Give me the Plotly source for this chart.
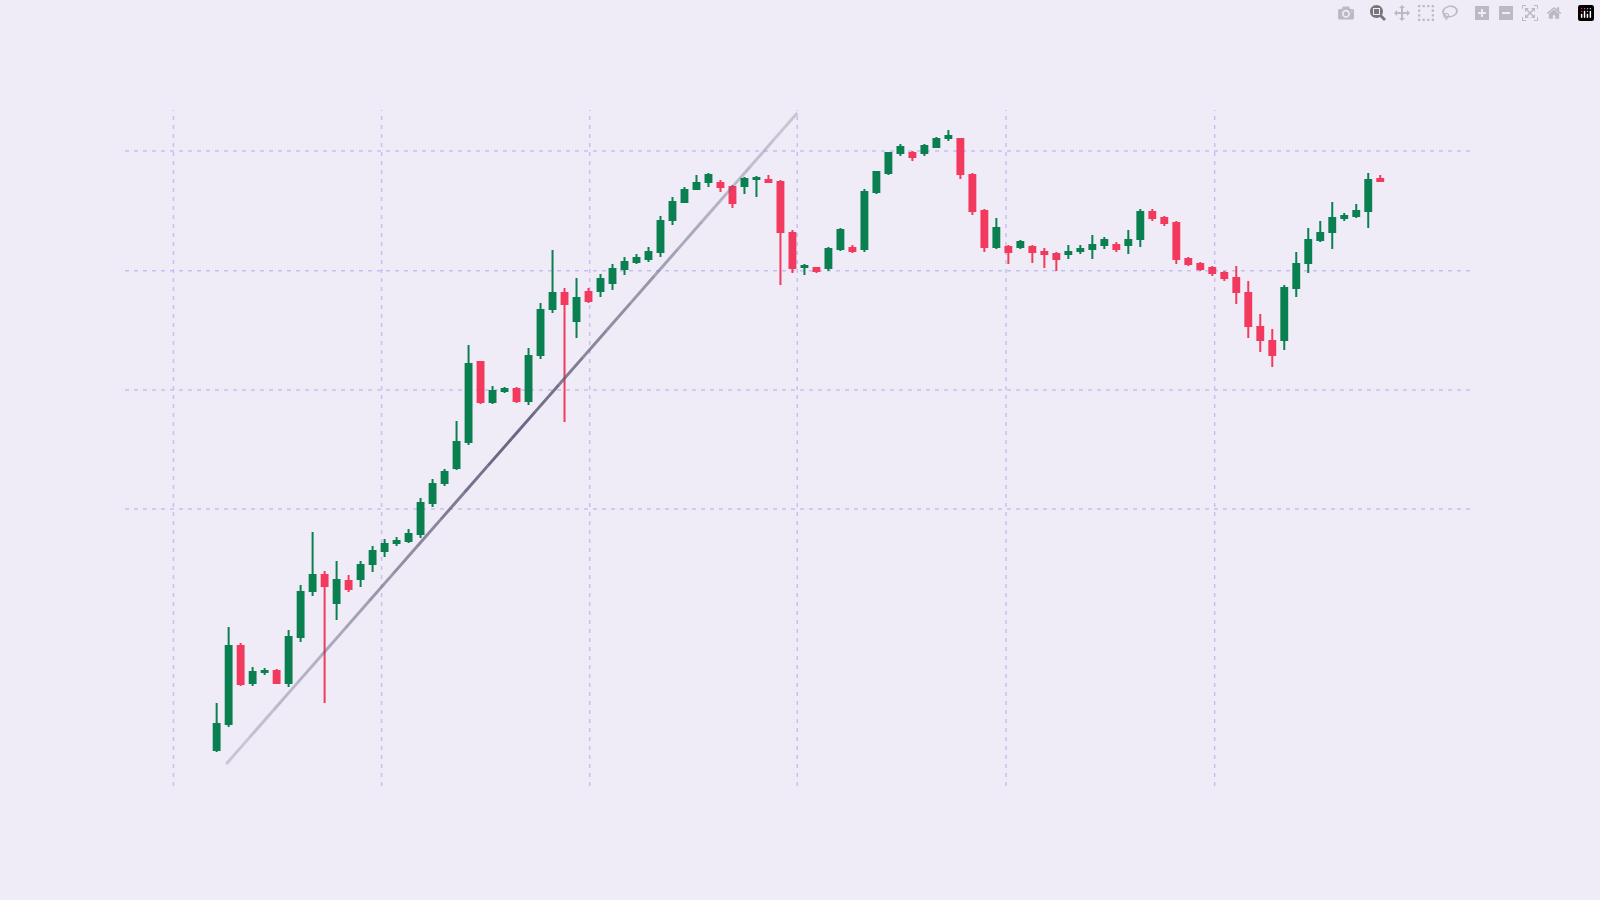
import plotly.graph_objects as go

# OHLC values (price units, arbitrary scale)
opens = [150, 176, 254, 217, 228, 229, 217, 263, 309, 325, 297, 319, 321, 336, 349, 357,
         359, 366, 397, 417, 432, 458, 538, 498, 509, 511, 499, 545, 591, 607, 579, 608,
         609, 617, 631, 638, 641, 648, 680, 698, 711, 718, 717, 713, 714, 721, 720, 718,
         667, 633, 632, 632, 651, 652, 651, 708, 727, 747, 747, 747, 753, 762, 761, 725,
         689, 653, 653, 653, 653, 648, 646, 646, 649, 651, 655, 655, 655, 661, 688, 682,
         677, 641, 636, 632, 627, 622, 607, 573, 559, 560, 612, 637, 660, 668, 682, 684,
         689, 721]
highs = [197, 273, 257, 233, 232, 231, 270, 315, 368, 329, 339, 325, 339, 354, 361, 363,
         371, 402, 421, 431, 479, 555, 538, 514, 513, 513, 552, 597, 650, 612, 622, 612,
         626, 636, 643, 646, 653, 684, 703, 713, 725, 727, 720, 715, 723, 724, 725, 720,
         670, 636, 633, 653, 672, 655, 711, 729, 748, 756, 749, 756, 763, 770, 762, 727,
         691, 682, 655, 660, 655, 652, 648, 655, 655, 665, 663, 658, 670, 691, 691, 684,
         679, 643, 638, 634, 629, 634, 619, 586, 571, 615, 648, 672, 679, 698, 687, 696,
         727, 725]
lows = [148, 173, 214, 214, 225, 216, 213, 258, 304, 197, 280, 308, 313, 328, 343, 354,
        357, 362, 393, 414, 430, 455, 496, 496, 507, 497, 495, 541, 587, 478, 562, 597,
        603, 610, 625, 636, 638, 643, 675, 697, 711, 713, 708, 692, 706, 703, 718, 615,
        627, 625, 627, 629, 649, 647, 648, 706, 725, 744, 739, 744, 752, 759, 721, 685,
        648, 651, 636, 651, 637, 632, 629, 641, 646, 641, 651, 648, 646, 653, 679, 674,
        636, 634, 629, 624, 619, 596, 562, 548, 533, 550, 603, 627, 658, 651, 679, 682,
        672, 718]
closes = [176, 254, 216, 228, 229, 217, 263, 308, 325, 314, 320, 311, 335, 349, 356, 359,
          366, 397, 416, 428, 458, 536, 498, 509, 511, 499, 544, 590, 607, 596, 602, 599,
          621, 631, 638, 642, 648, 679, 698, 710, 717, 725, 713, 697, 721, 722, 718, 668,
          632, 634, 629, 651, 670, 649, 708, 728, 747, 753, 743, 754, 761, 764, 726, 689,
          653, 672, 648, 658, 648, 646, 641, 648, 651, 655, 660, 651, 660, 688, 682, 677,
          641, 636, 631, 627, 622, 608, 574, 560, 545, 612, 636, 660, 667, 682, 684, 689,
          720, 719]
bars = list(range(len(opens)))

# trend line endpoints (bar index, price)
trend_x = [0.8, 48.4]
trend_y = [136, 787]

grid_x = [-3.6, 13.75, 31.1, 48.4, 65.8, 83.2]
grid_y = [391, 510, 629.3, 749]

fig = go.Figure()

# trend line drawn as segments so it fades out toward both ends
n_seg = 24
for i in range(n_seg):
    t0, t1 = i / n_seg, (i + 1) / n_seg
    mid = (t0 + t1) / 2
    alpha = 0.25 + 0.7 * (1 - abs(mid - 0.5) * 2) ** 1.2
    fig.add_trace(go.Scatter(
        x=[trend_x[0] + (trend_x[1] - trend_x[0]) * t0, trend_x[0] + (trend_x[1] - trend_x[0]) * t1],
        y=[trend_y[0] + (trend_y[1] - trend_y[0]) * t0, trend_y[0] + (trend_y[1] - trend_y[0]) * t1],
        mode='lines', line=dict(color=f'rgba(95,92,120,{alpha:.2f})', width=3),
        showlegend=False, hoverinfo='skip'
    ))

fig.add_trace(go.Candlestick(
    x=bars, open=opens, high=highs, low=lows, close=closes,
    increasing=dict(line=dict(color='#0a8050', width=2), fillcolor='#0a8050'),
    decreasing=dict(line=dict(color='#f23a5e', width=2), fillcolor='#f23a5e'),
    whiskerwidth=0, showlegend=False
))

grid_style = dict(color='#c6c0f0', width=1.5, dash='4px,5px')
for gx in grid_x:
    fig.add_shape(type='line', xref='x', yref='paper', x0=gx, x1=gx, y0=0, y1=1,
                  line=grid_style, layer='below')
for gy in grid_y:
    fig.add_shape(type='line', xref='paper', yref='y', x0=0, x1=1, y0=gy, y1=gy,
                  line=grid_style, layer='below')

fig.update_layout(
    width=1600, height=900,
    paper_bgcolor='#efecf7', plot_bgcolor='#efecf7',
    margin=dict(l=125, r=125, t=110, b=114),
    xaxis=dict(range=[-7.64, 104.9], showgrid=False, zeroline=False,
               showticklabels=False, rangeslider=dict(visible=False)),
    yaxis=dict(range=[114, 790], showgrid=False, zeroline=False, showticklabels=False),
)

# remove the default page margin so the figure fills the window
fig.write_html("out.html", post_script="document.body.style.margin='0';"
               "document.body.style.background='#efecf7';")
